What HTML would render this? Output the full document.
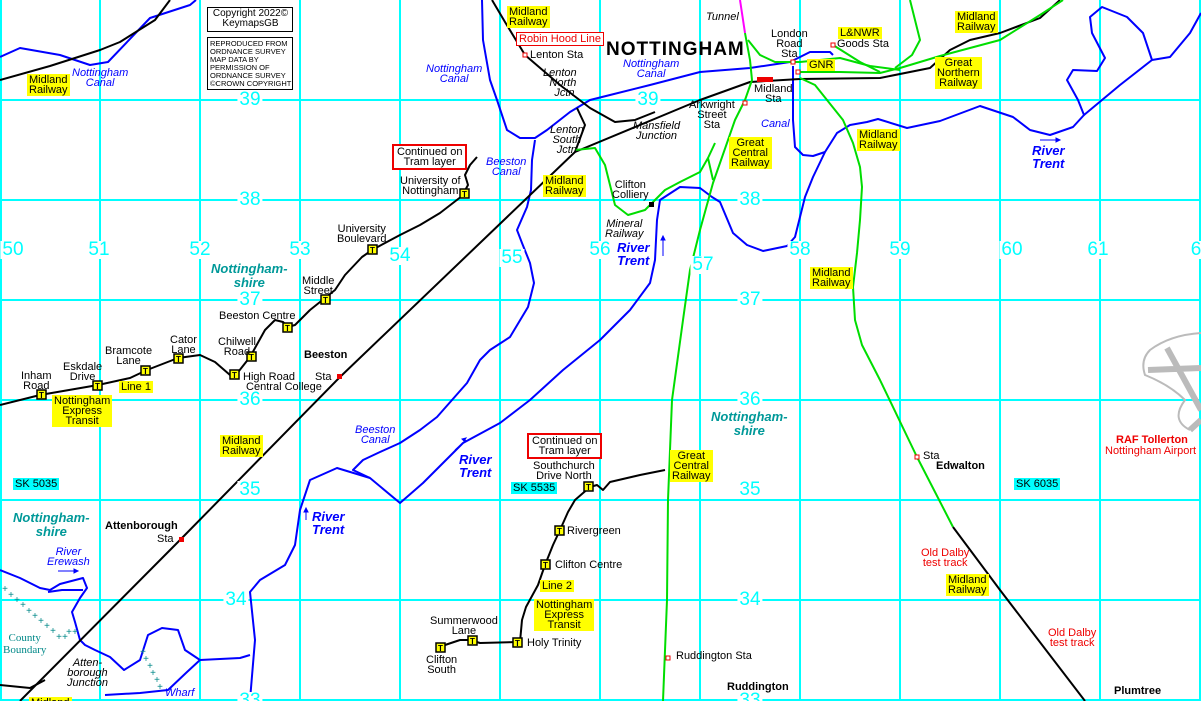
<!DOCTYPE html>
<html><head><meta charset="utf-8"><style>
body{margin:0;background:#fff}
#m{position:relative;width:1201px;height:701px;overflow:hidden;background:#fff;font-family:"Liberation Sans",sans-serif;font-size:11px;color:#000}
svg{position:absolute;left:0;top:0}
.l{position:absolute;line-height:10px;white-space:nowrap;text-align:center}
.y{background:#ff0;padding:1px 2px 1px 2px}
.g{position:absolute;color:#0ff;font-size:19px;background:#fff;line-height:18px;padding:0 2px;transform:translate(-50%,-50%)}
.b{color:#00f;font-style:italic}
.bb{color:#00f;font-style:italic;font-weight:bold;font-size:13px;line-height:13px}
.t{color:#099;font-style:italic;font-weight:bold;font-size:13px;line-height:14px}
.r{border:2px solid #e00;padding:1px 3px;background:#fff}
.k{font-weight:bold;font-size:11px}
.c{background:#0ff;padding:1px 2px}
</style></head><body><div id="m">
<svg width="1201" height="701" viewBox="0 0 1201 701">
<g stroke="#0ff" stroke-width="2" fill="none">
<path d="M1 0V701M100 0V701M200 0V701M300 0V701M400 0V701M500 0V701M600 0V701M700 0V701M800 0V701M900 0V701M1000 0V701M1100 0V701M1200 0V701"/>
<path d="M0 100H1201M0 200H1201M0 300H1201M0 400H1201M0 500H1201M0 600H1201M0 700H1201"/>
</g>
<!-- airport -->
<g stroke="#bbb" fill="none">
<path d="M1201 333 Q1170 335 1150 350 Q1140 360 1145 375 Q1170 385 1185 400 Q1170 420 1190 430" stroke-width="2"/>
<path d="M1148 370 L1201 368 M1167 348 L1201 410 M1201 420 L1190 430" stroke-width="6"/>
</g>
<!-- rivers / canals -->
<g stroke="#00f" stroke-width="2" fill="none" stroke-linejoin="round">
<path d="M0 57 L20 48 L60 55 L90 65 L108 62 L150 18 L190 5 L196 0"/>
<path d="M482 0 L483 40 L490 80 L497 100 L507 130 L520 138 L535 138 L547 130 L570 112 L590 100 L610 95 L650 85 L700 72 L750 68 L790 62 L810 52 L830 52 L833 55"/>
<path d="M793 66 L793 120 L795 147 L803 155 L813 156 L825 152"/>
<path d="M535 140 L532 160 L531 190 L527 207 L517 230 L522 243 L530 263 L534 283 L528 307 L510 337 L490 350 L480 360 L467 383 L437 417 L420 430 L400 443 L380 452 L363 460 L353 470 L370 478"/>
<path d="M250 700 L255 640 L250 592 L260 580 L285 565 L295 545 L300 510 L310 480 L337 468 L370 478 L400 503 L423 483 L463 443 L500 423 L530 400 L563 370 L600 340 L630 310 L650 283 L655 260 L657 220 L660 200 L680 187 L700 188 L712 197 L720 202 L733 233 L747 245 L763 251 L787 246 L795 237 L805 197 L813 177 L825 152 L837 133 L850 125 L867 122 L878 119 L907 128 L940 121 L980 106 L1013 117 L1030 130 L1050 135 L1073 127 L1084 115 L1078 100 L1067 80 L1073 70 L1097 71 L1105 58 L1092 33 L1090 17 L1102 7 L1127 17 L1143 33 L1152 60 L1170 57 L1190 33 L1201 13"/>
<path d="M1084 115 L1120 85 L1152 60"/>
<path d="M250 655 L240 658 L200 660 L187 672 L168 690 L140 693 L105 695"/>
<path d="M200 660 L185 650 L178 630 L162 628 L148 635 L140 660 L124 670 L110 657 L95 650 L85 645 L80 640 L75 622 L72 612 L80 598 L87 588 L83 578 L60 584 L50 590 L40 588 L20 578 L0 570"/>
<path d="M83 590 L75 590 L62 590 L48 592"/>
</g>
<g stroke="#00f" stroke-width="1" fill="none"><path d="M455 450 L466 440 M663 256 V236"/><path d="M58 571 H78"/></g>
<!-- railways black -->
<g stroke="#000" stroke-width="2" fill="none" stroke-linejoin="round">
<path d="M0 80 L50 66 L100 50 L120 42 L155 20 L170 0"/>
<path d="M20 701 L180 540 L340 377 L575 152 L700 100 L750 82 L800 79 L880 78 L930 68 L950 50 L970 40 L1000 33 L1040 18 L1060 0"/>
<path d="M492 0 L505 22 L525 55 L560 85 L590 108 L615 122 L635 120 L655 112"/>
<path d="M577 108 L585 125 L575 152"/>
<path d="M953 527 L1000 590 L1085 701"/>
<path d="M0 685 L30 688 L45 680"/>
</g>
<!-- tram lines -->
<g stroke="#000" stroke-width="2" fill="none" stroke-linejoin="round">
<path d="M0 405 L40 395 L98 385 L130 378 L147 370 L178 358 L200 355 L215 362 L230 375 L235 376 L250 357 L265 330 L275 320 L283 322 L288 327 L295 325 L310 310 L325 298 L335 290 L345 275 L362 257 L372 250 L385 243 L400 235 L420 225 L440 213 L462 196 L468 185 L465 175 L470 165 L477 157"/>
<path d="M665 470 L640 475 L610 482 L603 490 L597 485 L590 487 L575 500 L568 512 L560 530 L553 545 L545 565 L538 585 L526 607 L522 620 L520 642 L480 643 L470 640 L460 640 L445 645 L441 648"/>
</g>
<!-- green railways -->
<g stroke="#0d0" stroke-width="2" fill="none" stroke-linejoin="round">
<path d="M745 33 L750 60 L752 80 L745 100 L735 120 L713 183 L700 230 L690 270 L683 320 L672 400 L668 500 L667 600 L663 701"/>
<path d="M748 40 L760 55 L775 62 L800 62 L840 58 L870 66 L900 70"/>
<path d="M797 72 L840 72 L880 73 L900 68 L940 56 L1000 40 L1040 15 L1063 0"/>
<path d="M833 45 L860 62 L880 72"/>
<path d="M910 0 L915 20 L920 40 L912 55 L895 68"/>
<path d="M800 78 L815 85 L843 120 L853 143 L860 167 L862 187 L860 220 L857 253 L853 287 L855 320 L862 345 L880 380 L917 457 L953 527"/>
<path d="M575 150 L595 148 L605 165 L615 205 L628 215 L645 210 L665 190 L680 182 L700 172 L708 158 L715 143 M708 158 L713 180"/>
</g>
<path d="M740 0 L745 33" stroke="#f0f" stroke-width="2"/>
<!-- county boundary -->
<g fill="#088" font-size="10" font-family="Liberation Mono,monospace">
<text x="2" y="592">+</text><text x="8" y="598">+</text><text x="14" y="603">+</text><text x="20" y="608">+</text><text x="26" y="614">+</text><text x="32" y="619">+</text><text x="38" y="624">+</text><text x="44" y="629">+</text><text x="50" y="634">+</text><text x="56" y="640">+</text><text x="62" y="640">+</text><text x="66" y="635">+</text><text x="72" y="635">+</text>
<text x="140" y="655">+</text><text x="143" y="662">+</text><text x="147" y="669">+</text><text x="150" y="676">+</text><text x="154" y="683">+</text><text x="157" y="690">+</text>
</g>
<!-- station markers -->
<g fill="#fff" stroke="#e00" stroke-width="1">
<rect x="523" y="53" width="4" height="4"/><rect x="743" y="101" width="4" height="4"/><rect x="791" y="60" width="4" height="4"/><rect x="796" y="70" width="4" height="4"/><rect x="831" y="43" width="4" height="4"/><rect x="915" y="455" width="4" height="4"/><rect x="666" y="656" width="4" height="4"/>
</g>
<rect x="757" y="77" width="16" height="5" fill="#e00"/>
<rect x="337" y="374" width="5" height="5" fill="#e00"/><rect x="179" y="537" width="5" height="5" fill="#e00"/>
<rect x="649" y="202" width="5" height="5" fill="#000"/>
<!-- copyright boxes -->
<rect x="207.5" y="7.5" width="85" height="24" fill="#fff" stroke="#000"/>
<rect x="207.5" y="37.5" width="85" height="52" fill="#fff" stroke="#000"/>
<!-- tram stops -->
<g font-family="Liberation Sans,sans-serif" font-size="8" font-weight="bold" text-anchor="middle">
<g fill="#ff0" stroke="#000" stroke-width="1.5">
<rect x="37" y="390" width="9" height="9"/><rect x="93" y="381" width="9" height="9"/><rect x="141" y="366" width="9" height="9"/><rect x="174" y="354" width="9" height="9"/><rect x="230" y="370" width="9" height="9"/><rect x="247" y="352" width="9" height="9"/><rect x="283" y="323" width="9" height="9"/><rect x="321" y="295" width="9" height="9"/><rect x="368" y="245" width="9" height="9"/><rect x="460" y="189" width="9" height="9"/>
<rect x="584" y="482" width="9" height="9"/><rect x="555" y="526" width="9" height="9"/><rect x="541" y="560" width="9" height="9"/><rect x="513" y="638" width="9" height="9"/><rect x="468" y="636" width="9" height="9"/><rect x="436" y="643" width="9" height="9"/>
</g>
<g fill="#000">
<text x="41.5" y="398">T</text><text x="97.5" y="389">T</text><text x="145.5" y="374">T</text><text x="178.5" y="362">T</text><text x="234.5" y="378">T</text><text x="251.5" y="360">T</text><text x="287.5" y="331">T</text><text x="325.5" y="303">T</text><text x="372.5" y="253">T</text><text x="464.5" y="197">T</text>
<text x="588.5" y="490">T</text><text x="559.5" y="534">T</text><text x="545.5" y="568">T</text><text x="517.5" y="646">T</text><text x="472.5" y="644">T</text><text x="440.5" y="651">T</text>
</g></g>
</svg>

<!-- grid numbers -->
<div class="g" style="left:250px;top:100px">39</div><div class="g" style="left:648px;top:100px">39</div>
<div class="g" style="left:250px;top:200px">38</div><div class="g" style="left:750px;top:200px">38</div>
<div class="g" style="left:250px;top:300px">37</div><div class="g" style="left:750px;top:300px">37</div>
<div class="g" style="left:250px;top:400px">36</div><div class="g" style="left:750px;top:400px">36</div>
<div class="g" style="left:250px;top:490px">35</div><div class="g" style="left:750px;top:490px">35</div>
<div class="g" style="left:236px;top:600px">34</div><div class="g" style="left:750px;top:600px">34</div>
<div class="g" style="left:250px;top:701px">33</div><div class="g" style="left:750px;top:701px">33</div>
<div class="g" style="left:13px;top:250px">50</div><div class="g" style="left:99px;top:250px">51</div><div class="g" style="left:200px;top:250px">52</div><div class="g" style="left:300px;top:250px">53</div><div class="g" style="left:400px;top:256px">54</div><div class="g" style="left:512px;top:258px">55</div><div class="g" style="left:600px;top:250px">56</div><div class="g" style="left:703px;top:265px">57</div><div class="g" style="left:800px;top:250px">58</div><div class="g" style="left:900px;top:250px">59</div><div class="g" style="left:1012px;top:250px">60</div><div class="g" style="left:1098px;top:250px">61</div><div class="g" style="left:1196px;top:250px">6</div>

<!-- copyright text -->
<div class="l" style="left:208px;top:9px;width:85px;font-size:10px">Copyright 2022©<br>KeymapsGB</div>
<div class="l" style="left:210px;top:40px;font-size:7.5px;line-height:8px;text-align:left">REPRODUCED FROM<br>ORDNANCE SURVEY<br>MAP DATA BY<br>PERMISSION OF<br>ORDNANCE SURVEY<br>©CROWN COPYRIGHT</div>

<!-- yellow labels -->
<div class="l y" style="left:27px;top:74px">Midland<br>Railway</div>
<div class="l y" style="left:507px;top:6px">Midland<br>Railway</div>
<div class="l y" style="left:838px;top:27px">L&amp;NWR</div>
<div class="l y" style="left:807px;top:59px">GNR</div>
<div class="l y" style="left:955px;top:11px">Midland<br>Railway</div>
<div class="l y" style="left:935px;top:57px">Great<br>Northern<br>Railway</div>
<div class="l y" style="left:729px;top:137px">Great<br>Central<br>Railway</div>
<div class="l y" style="left:857px;top:129px">Midland<br>Railway</div>
<div class="l y" style="left:543px;top:175px">Midland<br>Railway</div>
<div class="l y" style="left:810px;top:267px">Midland<br>Railway</div>
<div class="l y" style="left:119px;top:381px">Line 1</div>
<div class="l y" style="left:52px;top:395px">Nottingham<br>Express<br>Transit</div>
<div class="l y" style="left:220px;top:435px">Midland<br>Railway</div>
<div class="l y" style="left:670px;top:450px">Great<br>Central<br>Railway</div>
<div class="l y" style="left:540px;top:580px">Line 2</div>
<div class="l y" style="left:534px;top:599px">Nottingham<br>Express<br>Transit</div>
<div class="l y" style="left:946px;top:574px">Midland<br>Railway</div>
<div class="l y" style="left:29px;top:697px">Midland</div>

<div class="l c" style="left:13px;top:478px">SK 5035</div>
<div class="l c" style="left:511px;top:482px">SK 5535</div>
<div class="l c" style="left:1014px;top:478px">SK 6035</div>

<div class="l r" style="left:516px;top:32px;color:#e00;border-width:1px;padding:1px 2px">Robin Hood Line</div>
<div class="l r" style="left:392px;top:144px">Continued on<br>Tram layer</div>
<div class="l r" style="left:527px;top:433px">Continued on<br>Tram layer</div>

<!-- black labels -->
<div class="l" style="left:530px;top:50px">Lenton Sta</div>
<div class="l" style="left:606px;top:40px;font-size:19px;font-weight:bold;line-height:20px;letter-spacing:1px">NOTTINGHAM</div>
<div class="l" style="left:706px;top:12px;font-style:italic">Tunnel</div>
<div class="l" style="left:771px;top:29px">London<br>Road<br>Sta</div>
<div class="l" style="left:837px;top:39px">Goods Sta</div>
<div class="l" style="left:754px;top:84px">Midland<br>Sta</div>
<div class="l" style="left:689px;top:100px">Arkwright<br>Street<br>Sta</div>
<div class="l" style="left:543px;top:68px;font-style:italic">Lenton<br>&nbsp;&nbsp;North<br>&nbsp;&nbsp;&nbsp;Jctn</div>
<div class="l" style="left:550px;top:125px;font-style:italic">Lenton<br>South<br>Jctn</div>
<div class="l" style="left:633px;top:121px;font-style:italic">Mansfield<br>Junction</div>
<div class="l" style="left:612px;top:180px">Clifton<br>Colliery</div>
<div class="l" style="left:605px;top:219px;font-style:italic">Mineral<br>Railway</div>
<div class="l" style="left:400px;top:176px">University of<br>Nottingham</div>
<div class="l" style="left:337px;top:224px">University<br>Boulevard</div>
<div class="l" style="left:302px;top:276px">Middle<br>Street</div>
<div class="l" style="left:219px;top:311px">Beeston Centre</div>
<div class="l" style="left:218px;top:337px">Chilwell<br>Road</div>
<div class="l" style="left:243px;top:372px;text-align:left">High Road<br>&nbsp;Central College</div>
<div class="l" style="left:170px;top:335px">Cator<br>Lane</div>
<div class="l" style="left:105px;top:346px">Bramcote<br>Lane</div>
<div class="l" style="left:63px;top:362px">Eskdale<br>Drive</div>
<div class="l" style="left:21px;top:371px">Inham<br>Road</div>
<div class="l k" style="left:304px;top:350px">Beeston</div>
<div class="l" style="left:315px;top:372px">Sta</div>
<div class="l k" style="left:105px;top:521px">Attenborough</div>
<div class="l" style="left:157px;top:534px">Sta</div>
<div class="l" style="left:67px;top:658px;font-style:italic">Atten-<br>borough<br>Junction</div>
<div class="l" style="left:533px;top:461px">Southchurch<br>Drive North</div>
<div class="l" style="left:567px;top:526px">Rivergreen</div>
<div class="l" style="left:555px;top:560px">Clifton Centre</div>
<div class="l" style="left:527px;top:638px">Holy Trinity</div>
<div class="l" style="left:430px;top:616px">Summerwood<br>Lane</div>
<div class="l" style="left:426px;top:655px">Clifton<br>South</div>
<div class="l" style="left:676px;top:651px">Ruddington Sta</div>
<div class="l k" style="left:727px;top:682px">Ruddington</div>
<div class="l" style="left:923px;top:451px">Sta</div>
<div class="l k" style="left:936px;top:461px">Edwalton</div>
<div class="l k" style="left:1114px;top:686px">Plumtree</div>
<div class="l" style="left:921px;top:548px;color:#e00">Old Dalby<br>test track</div>
<div class="l" style="left:1048px;top:628px;color:#e00">Old Dalby<br>test track</div>
<div class="l" style="left:1116px;top:435px;color:#e00;font-weight:bold">RAF Tollerton</div>
<div class="l" style="left:1105px;top:446px;color:#e00">Nottingham Airport</div>

<!-- blue labels -->
<div class="l b" style="left:72px;top:68px">Nottingham<br>Canal</div>
<div class="l b" style="left:426px;top:64px">Nottingham<br>Canal</div>
<div class="l b" style="left:623px;top:59px">Nottingham<br>Canal</div>
<div class="l b" style="left:761px;top:119px">Canal</div>
<div class="l b" style="left:486px;top:157px">Beeston<br>Canal</div>
<div class="l b" style="left:355px;top:425px">Beeston<br>Canal</div>
<div class="l b" style="left:47px;top:547px">River<br>Erewash</div>
<div class="l bb" style="left:617px;top:241px">River<br>Trent</div>
<div class="l bb" style="left:459px;top:453px">River<br>Trent</div>
<div class="l bb" style="left:312px;top:510px;text-align:left">River<br>Trent</div>
<div class="l bb" style="left:1032px;top:144px">River<br>Trent</div>
<svg width="1201" height="701" style="pointer-events:none"><g stroke="#00f" stroke-width="1" fill="#00f"><path d="M1040 140H1060" /><path d="M1060 140l-4-2v4z"/><path d="M306 520V510"/><path d="M306 508l-2 4h4z"/><path d="M663 236l-2 4h4z"/><path d="M466 438l-4 1 2 2z"/><path d="M78 571l-4-2v4z"/></g></svg>

<!-- teal labels -->
<div class="l t" style="left:211px;top:262px">Nottingham-<br>shire</div>
<div class="l t" style="left:711px;top:410px">Nottingham-<br>shire</div>
<div class="l t" style="left:13px;top:511px">Nottingham-<br>shire</div>
<div class="l" style="left:3px;top:632px;color:#088;font-family:'Liberation Serif',serif;font-size:11px;line-height:12px">County<br>Boundary</div>
<div class="l b" style="left:165px;top:688px">Wharf</div>
</div></body></html>
